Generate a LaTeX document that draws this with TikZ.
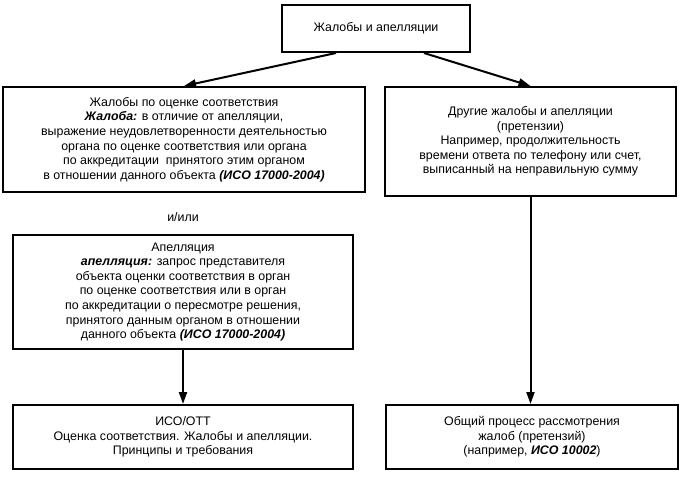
\documentclass[tikz,border=0pt]{standalone}
\usepackage{fontspec}
\setmainfont{Liberation Sans}
\usetikzlibrary{arrows.meta}
\tikzset{
  box/.style={draw=black, line width=2pt, align=center, inner sep=0pt,
    font=\fontsize{12.4}{14.6}\selectfont},
  arr/.style={line width=2pt, -{Triangle[length=12pt,width=8pt]}},
  lbl/.style={align=center, inner sep=0pt, font=\fontsize{12.4}{14.6}\selectfont}
}
\newcommand{\bi}[1]{\textbf{\textit{#1}}}
\begin{document}
\begin{tikzpicture}[x=1pt,y=-1pt]
\useasboundingbox (0,0) rectangle (682,479);
\node[box, minimum width=188pt, minimum height=47pt] (top) at (376,28.5) {Жалобы и апелляции};
\node[box, minimum width=362pt, minimum height=105pt] (left1) at (184,139.5)
  {Жалобы по оценке соответствия\\
   \bi{Жалоба:} в отличие от апелляции,\\
   выражение неудовлетворенности деятельностью\\
   органа по оценке соответствия или органа\\
   по аккредитации\ \ принятого этим органом\\
   в отношении данного объекта \bi{(ИСО 17000-2004)}};
\node[box, minimum width=291pt, minimum height=109pt] (right1) at (530.5,141.5)
  {Другие жалобы и апелляции\\
   (претензии)\\
   Например, продолжительность\\
   времени ответа по телефону или счет,\\
   выписанный на неправильную сумму};
\node[lbl] (andor) at (183,217) {и/или};
\node[box, minimum width=340pt, minimum height=114pt] (left2) at (183,292)
  {Апелляция\\
   \bi{апелляция:} запрос представителя\\
   объекта оценки соответствия в орган\\
   по оценке соответствия или в орган\\
   по аккредитации о пересмотре решения,\\
   принятого данным органом в отношении\\
   данного объекта \bi{(ИСО 17000-2004)}};
\node[box, minimum width=340pt, minimum height=64pt] (left3) at (183,437)
  {ИСО/ОТТ\\
   Оценка соответствия. Жалобы и апелляции.\\
   Принципы и требования};
\node[box, minimum width=292pt, minimum height=64pt] (right3) at (532,437)
  {Общий процесс рассмотрения\\
   жалоб (претензий)\\
   (например, \bi{ИСО 10002})};
\draw[arr] ([xshift=-40pt]top.south) -- (left1.north);
\draw[arr] ([xshift=48pt]top.south) -- (right1.north);
\draw[arr] (left2.south) -- (left3.north);
\draw[arr] (right1.south) -- (right1.south |- right3.north);
\end{tikzpicture}
\end{document}
